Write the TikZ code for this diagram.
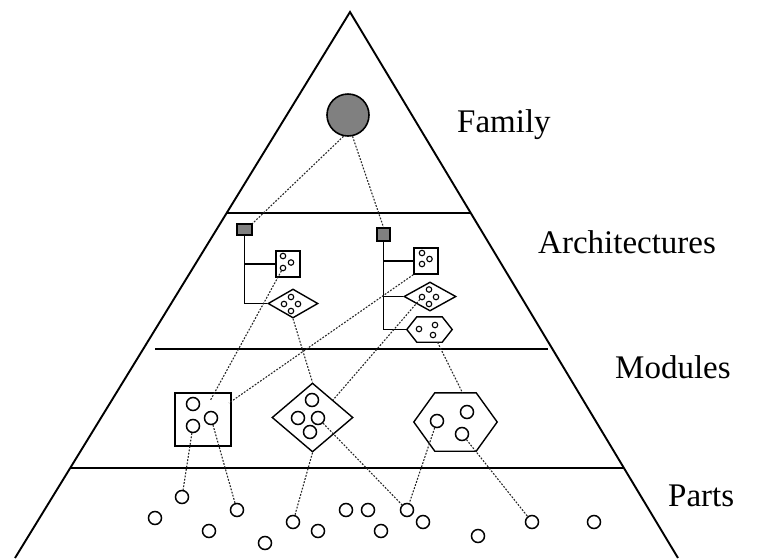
\documentclass[tikz,border=0pt]{standalone}
\usepackage{fontspec}
\setmainfont{Liberation Serif}
\usetikzlibrary{shapes.geometric}
\tikzset{
  edge/.style={line width=1.9pt},
  level/.style={line width=1.7pt},
  outline/.style={line width=1.4pt},
  sq/.style={draw, rectangle, line width=1.4pt, inner sep=0pt},
  dia/.style={draw, diamond, line width=1.4pt, inner sep=0pt},
  hexbox/.style={rectangle, inner sep=0pt, draw=none},
  tiny/.style={draw, circle, line width=1.1pt, inner sep=0pt, minimum size=5.5pt},
  mid/.style={draw, circle, line width=1.5pt, inner sep=0pt, minimum size=13pt},
  part/.style={draw, circle, line width=1.5pt, inner sep=0pt, minimum size=13pt},
  link/.style={line width=1.1pt, dash pattern=on 1.8pt off 1.5pt, black!85},
  tree/.style={line width=1.4pt},
  lbl/.style={anchor=base west, inner sep=0pt, font=\fontsize{33}{40}\selectfont},
}
\begin{document}
\begin{tikzpicture}[x=1pt,y=-1pt]
\useasboundingbox (0,0) rectangle (769,558);

% pyramid and level separators
\draw[edge] (15,558) -- (350,12) -- (678,558);
\draw[level] (227,213) -- (471,213);
\draw[level] (155,349) -- (548,349);
\draw[level] (70,468) -- (624,468);

% level labels
\node[lbl] (lfam) at (457,132) {Family};
\node[lbl] (larch) at (538,253) {Architectures};
\node[lbl] (lmod) at (615,378) {Modules};
\node[lbl] (lpart) at (668,506) {Parts};

% family
\node[draw, circle, fill=black!50, line width=1.6pt, inner sep=0pt, minimum size=42pt] (fam) at (348,115) {};

% architecture 1
\node[sq, fill=black!50, minimum width=15pt, minimum height=11pt] (as1) at (244.5,229.5) {};
\node[sq, minimum width=24pt, minimum height=26pt] (ab1) at (288,264) {};
\node[tiny] (ab1a) at (283,256) {};
\node[tiny] (ab1b) at (291,262.5) {};
\node[tiny] (ab1c) at (283,268) {};
\node[dia, minimum width=50pt, minimum height=29pt] (ad1) at (293,303.5) {};
\node[tiny] (ad1t) at (291,297) {};
\node[tiny] (ad1l) at (284,304) {};
\node[tiny] (ad1r) at (298,304) {};
\node[tiny] (ad1b) at (291,311) {};
\draw[tree] (as1.south) |- (ab1.west);
\draw[tree] (as1.south) |- (ad1.west);

% architecture 2
\node[sq, fill=black!50, minimum width=13pt, minimum height=13pt] (as2) at (383.5,234.5) {};
\node[sq, minimum width=24pt, minimum height=26pt] (ab2) at (426,261) {};
\node[tiny] (ab2a) at (422,253) {};
\node[tiny] (ab2b) at (429.5,259) {};
\node[tiny] (ab2c) at (422,264) {};
\node[dia, minimum width=52pt, minimum height=29pt] (ad2) at (430,296.5) {};
\node[tiny] (ad2t) at (429,289.5) {};
\node[tiny] (ad2l) at (422,297) {};
\node[tiny] (ad2r) at (436,297) {};
\node[tiny] (ad2b) at (429,304) {};
\node[hexbox, minimum width=45pt, minimum height=25pt] (ah) at (429.5,329.5) {};
\draw[outline] (ah.west) -- ([xshift=10pt]ah.north west) -- ([xshift=-10pt]ah.north east)
  -- (ah.east) -- ([xshift=-10pt]ah.south east) -- ([xshift=10pt]ah.south west) -- cycle;
\node[tiny] (aha) at (419,329) {};
\node[tiny] (ahb) at (435,325) {};
\node[tiny] (ahc) at (433,335) {};
\draw[tree] (as2.south) |- (ab2.west);
\draw[tree] (as2.south) |- (ad2.west);
\draw[tree] (as2.south) |- (ah.west);

% modules
\node[sq, minimum width=56pt, minimum height=53pt] (ms) at (203,419.5) {};
\node[mid] (msc1) at (193,404) {};
\node[mid] (msc2) at (211,418) {};
\node[mid] (msc3) at (193,426) {};
\coordinate (msin1) at (210,401);
\coordinate (msin2) at (229,403);

\node[dia, minimum width=81pt, minimum height=69pt] (md) at (312.5,417.5) {};
\node[mid] (mdt) at (312,400) {};
\node[mid] (mdl) at (298,418) {};
\node[mid] (mdr) at (318,418) {};
\node[mid] (mdb) at (310,432) {};

\node[hexbox, minimum width=83pt, minimum height=58pt] (mh) at (455.5,422) {};
\draw[outline] (mh.west) -- ([xshift=21pt]mh.north west) -- ([xshift=-21pt]mh.north east)
  -- (mh.east) -- ([xshift=-21pt]mh.south east) -- ([xshift=21pt]mh.south west) -- cycle;
\node[mid] (mhl) at (437,421) {};
\node[mid] (mht) at (467,412) {};
\node[mid] (mhb) at (462,434) {};

% parts
\node[part] (p1) at (182,497) {};
\node[part] (p2) at (155,518) {};
\node[part] (p3) at (209,531) {};
\node[part] (p4) at (237,510) {};
\node[part] (p5) at (293,522) {};
\node[part] (p6) at (265,543) {};
\node[part] (p7) at (318,531) {};
\node[part] (p8) at (346,510) {};
\node[part] (p9) at (368,510) {};
\node[part] (p10) at (407,510) {};
\node[part] (p11) at (381,531) {};
\node[part] (p12) at (423,522) {};
\node[part] (p13) at (478,536) {};
\node[part] (p14) at (532,522) {};
\node[part] (p15) at (594,522) {};

% dotted relations between levels
\draw[link] (fam.-102) -- (as1.north east);
\draw[link] (fam.-78) -- (as2.north);
\draw[link] (ab1c) -- (msin1);
\draw[link] (ad1.south) -- (md.north);
\draw[link] (ab2.south west) -- (msin2);
\draw[link] (ad2l) -- (md.north east);
\draw[link] ([xshift=8pt]ah.south) -- ([xshift=7pt]mh.north);
\draw[link] (msc3) -- (p1);
\draw[link] (msc2) -- (p4);
\draw[link] (md.south) -- (p5);
\draw[link] (mdr) -- (p10);
\draw[link] (mhl) -- (p10);
\draw[link] (mhb) -- (p14);
\end{tikzpicture}
\end{document}
